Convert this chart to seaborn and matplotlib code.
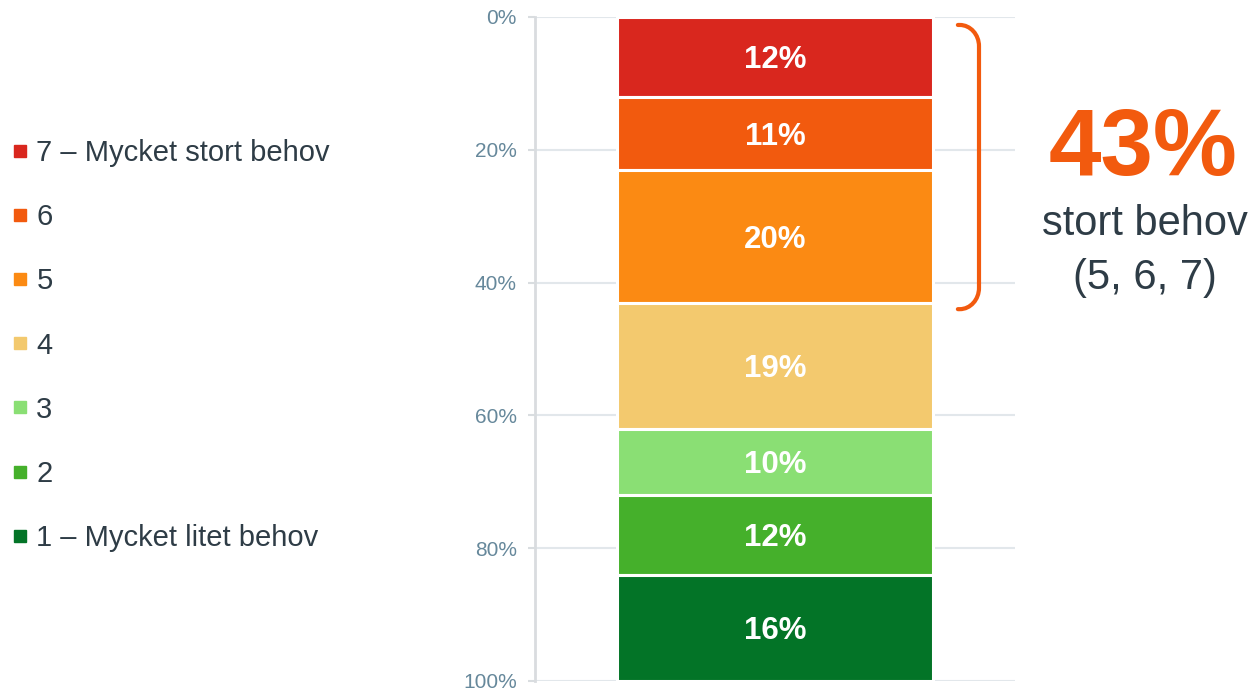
import matplotlib.pyplot as plt
import seaborn as sns
from matplotlib.lines import Line2D
from matplotlib.path import Path
from matplotlib.patches import PathPatch
from matplotlib.transforms import blended_transform_factory

# data, from top of the stack to the bottom
levels = ["7 – Mycket stort behov", "6", "5", "4", "3", "2", "1 – Mycket litet behov"]
shares = [12, 11, 20, 19, 10, 12, 16]
colors = ["#d9271e", "#f25a0e", "#fb8a13", "#f3c96e", "#8adf74", "#45b02b", "#037427"]
yticks = [0, 20, 40, 60, 80, 100]
highlight_value = "43%"
highlight_lines = ["stort behov", "(5, 6, 7)"]

sns.set_theme(style="white")
plt.rcParams["font.family"] = ["Liberation Sans", "DejaVu Sans"]

fig = plt.figure(figsize=(12.55, 6.9), dpi=100)
ax = fig.add_axes([535 / 1255, 1 - 681 / 690, 480 / 1255, 664 / 690])

bottom = 0
for lev, val, col in zip(levels, shares, colors):
    sns.barplot(x=[""], y=[val], bottom=bottom, color=col, width=0.66,
                edgecolor="white", linewidth=2.2, saturation=1, ax=ax)
    lbls = ax.bar_label(ax.containers[-1], labels=[f"{val}%"], label_type="center",
                        color="white", fontweight="bold", fontsize=22.5)
    for t in lbls:
        t.set_va("center_baseline")
    bottom += val

ax.set_xlim(-0.5, 0.5)
ax.set_ylim(100, 0)
ax.set_yticks(yticks)
ax.set_yticklabels([f"{t}%" for t in yticks])
ax.set_xticks([])
ax.set_xlabel("")
ax.set_ylabel("")
ax.tick_params(axis="y", left=True, length=5, width=1.5, color="#d9dde0",
               labelsize=15, labelcolor="#66889b", pad=8)
ax.yaxis.grid(True, color="#e2e7eb", linewidth=1.5)
ax.set_axisbelow(True)
for side in ["top", "right", "bottom"]:
    ax.spines[side].set_visible(False)
ax.spines["left"].set_color("#d9dcdf")
ax.spines["left"].set_linewidth(2)

# bracket around the top three levels
trans = blended_transform_factory(ax.transAxes, ax.transData)
x0, x1, rx = 0.881, 0.925, 0.04
yt, yb, ry = 1.2, 44.0, 3.2
verts = [(x0, yt), (x1 - rx, yt),
         (x1 - rx * 0.45, yt), (x1, yt + ry * 0.45), (x1, yt + ry),
         (x1, yb - ry),
         (x1, yb - ry * 0.45), (x1 - rx * 0.45, yb), (x1 - rx, yb),
         (x0, yb)]
codes = [Path.MOVETO, Path.LINETO,
         Path.CURVE4, Path.CURVE4, Path.CURVE4,
         Path.LINETO,
         Path.CURVE4, Path.CURVE4, Path.CURVE4,
         Path.LINETO]
ax.add_patch(PathPatch(Path(verts, codes), transform=trans, fill=False,
                       edgecolor="#f25a0e", linewidth=3, capstyle="round",
                       clip_on=False))

fig.text(1143 / 1255, 1 - 175 / 690, highlight_value, ha="center", va="baseline",
         fontsize=68, fontweight="bold", color="#f25a0e")
fig.text(1145 / 1255, 1 - 235 / 690, highlight_lines[0], ha="center", va="baseline",
         fontsize=30, color="#2e3c46")
fig.text(1145 / 1255, 1 - 289 / 690, highlight_lines[1], ha="center", va="baseline",
         fontsize=30, color="#2e3c46")

handles = [Line2D([], [], marker="s", color=c, linestyle="none", markersize=8)
           for c in colors]
fig.legend(handles, levels, loc="center left", bbox_to_anchor=(13 / 1255, 1 - 345.5 / 690),
           frameon=False, fontsize=21, handlelength=0.5, handletextpad=0.3,
           labelspacing=1.24, borderaxespad=0, borderpad=0, labelcolor="#2e3c46")

fig.savefig("out.png", dpi=100)
